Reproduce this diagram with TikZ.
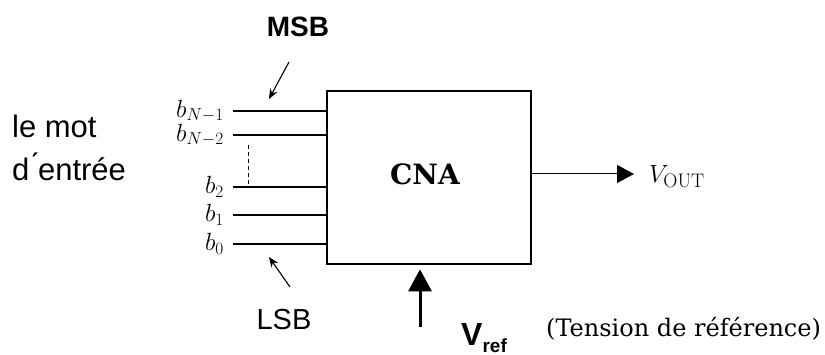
\documentclass[tikz,border=0pt]{standalone}
\usepackage{fontspec}
\newfontfamily\arialf{Liberation Sans}
\newfontfamily\dejaserif{DejaVu Serif}
\usetikzlibrary{arrows.meta,calc}
\begin{document}
\begin{tikzpicture}[x=1pt,y=-1pt,
  blockbox/.style={draw,line width=2.6pt,minimum width=204pt,minimum height=173pt,inner sep=0pt},
  bitlbl/.style={anchor=east,inner xsep=9pt,inner ysep=0pt,font=\fontsize{26}{26}\selectfont},
  bitline/.style={line width=1.3pt},
  sidelbl/.style={font=\arialf\fontsize{31}{43}\selectfont,align=left,inner sep=0pt},
  pointer/.style={line width=1.1pt,-{Stealth[length=10pt,width=8pt]}},
  bigtip/.style={-{Triangle[length=17pt,width=18pt]}}
]
\useasboundingbox (0,0) rectangle (825,355);

% main block
\node[blockbox] (cna) at (429,177.5) {};
\node[font=\dejaserif\bfseries\fontsize{28}{28}\selectfont,inner sep=0pt] (cnatxt) at (425,174) {CNA};

% input bits
\node[bitlbl] (bN1) at (233,111) {$b_{N-1}$};
\node[bitlbl] (bN2) at (233,135) {$b_{N-2}$};
\node[bitlbl] (b2) at (233,187) {$b_{2}$};
\node[bitlbl] (b1) at (233,215) {$b_{1}$};
\node[bitlbl] (b0) at (233,244) {$b_{0}$};
\foreach \n in {bN1,bN2,b2,b1,b0}
  \draw[bitline] (\n.east) -- (\n.east -| cna.west);
\draw[line width=1pt,dash pattern=on 4pt off 3pt] (248,145) -- (248,186);

% left label
\node[sidelbl,anchor=north west] (mot) at (12,115) {le mot\\d\'{}entrée};

% MSB / LSB
\node[font=\arialf\bfseries\fontsize{28}{28}\selectfont,inner sep=0pt] (msb) at (298,27) {MSB};
\coordinate (msbA) at (289,62);
\coordinate (msbB) at (269,99);
\draw[pointer] (msbA) -- (msbB);
\node[font=\arialf\fontsize{29}{29}\selectfont,inner sep=0pt] (lsb) at (284,320) {LSB};
\coordinate (lsbA) at (290,287);
\coordinate (lsbB) at (269,257);
\draw[pointer] (lsbA) -- (lsbB);

% output
\coordinate (voutend) at (634,174);
\draw[line width=1pt,bigtip] (cna.east |- voutend) -- (voutend);
\node[anchor=west,inner sep=0pt,font=\fontsize{28}{28}\selectfont] (vout) at (649,177) {$V_{\mathrm{OUT}}$};

% reference
\coordinate (vrefstart) at (420,327);
\draw[line width=3pt,-{Triangle[length=22pt,width=23pt]}] (vrefstart) -- ($(cna.south -| vrefstart)+(0,4)$);
\node[anchor=base west,inner sep=0pt,font=\arialf\bfseries\fontsize{32}{32}\selectfont] (vref) at (461,346)
  {V\raisebox{-6pt}{\fontsize{19}{19}\selectfont ref}};
\node[anchor=base west,inner sep=0pt,font=\dejaserif\fontsize{24}{24}\selectfont] (tension) at (546,337)
  {(Tension de référence)};
\end{tikzpicture}
\end{document}
